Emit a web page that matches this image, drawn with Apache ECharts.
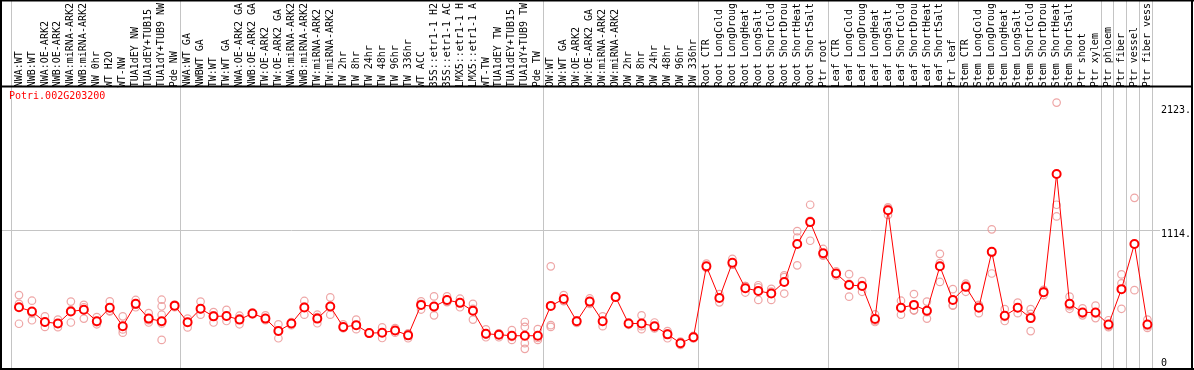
<!DOCTYPE html>
<html>
<head>
<meta charset="utf-8">
<script src="https://cdn.jsdelivr.net/npm/echarts@6/dist/echarts.min.js"></script>
<style>
html,body{margin:0;padding:0;background:#fff;}
#chart{width:1194px;height:370px;}
</style>
</head>
<body>
<div id="chart"></div>
<script>
// ---------- data ----------
const geneName = 'Potri.002G203200';

const categories = [
  'NWA:WT','NWB:WT','NWA:OE-ARK2','NWB:OE-ARK2','NWA:miRNA-ARK2','NWB:miRNA-ARK2','NW 0hr','WT H2O','WT-NW','TUA1dEY NW','TUA1dEY+TUB15','TUA1dY+TUB9 NW','Pde NW',
  'NWA:WT GA','NWBWT GA','TW:WT','TW:WT GA','NWA:OE-ARK2 GA','NWB:OE-ARK2 GA','TW:OE-ARK2','TW:OE-ARK2 GA','NWA:miRNA-ARK2','NWB:miRNA-ARK2','TW:miRNA-ARK2','TW:miRNA-ARK2','TW 2hr','TW 8hr','TW 24hr','TW 48hr','TW 96hr','TW 336hr','WT ACC','35S::etr1-1 H2','35S::etr1-1 AC','LMX5::etr1-1 H','LMX5::etr1-1 A','WT-TW','TUA1dEY TW','TUA1dEY+TUB15','TUA1dY+TUB9 TW','Pde TW',
  'OW:WT','OW:WT GA','OW:OE-ARK2','OW:OE-ARK2 GA','OW:miRNA-ARK2','OW:miRNA-ARK2','OW 2hr','OW 8hr','OW 24hr','OW 48hr','OW 96hr','OW 336hr',
  'Root CTR','Root LongCold','Root LongDroug','Root LongHeat','Root LongSalt','Root ShortCold','Root ShortDrou','Root ShortHeat','Root ShortSalt','Ptr root',
  'Leaf CTR','Leaf LongCold','Leaf LongDroug','Leaf LongHeat','Leaf LongSalt','Leaf ShortCold','Leaf ShortDrou','Leaf ShortHeat','Leaf ShortSalt','Ptr leaf',
  'Stem CTR','Stem LongCold','Stem LongDroug','Stem LongHeat','Stem LongSalt','Stem ShortCold','Stem ShortDrou','Stem ShortHeat','Stem ShortSalt','Ptr shoot','Ptr xylem',
  'Ptr phloem','Ptr fiber','Ptr vessel','Ptr fiber vess'
];

// number of categories in each separated block
const groupSizes = [13, 28, 12, 10, 10, 11, 1, 1, 1, 1];

// mean expression per category
const means = [
  498,465,381,369,465,478,387,494,348,525,408,387,511,
  379,486,426,428,400,449,408,309,369,496,408,504,342,356,293,296,314,275,517,504,556,533,470,288,280,272,272,272,
  509,564,387,543,387,579,369,369,348,283,213,260,
  823,572,852,649,628,607,699,1000,1174,927,
  766,675,667,405,1268,494,517,470,823,556,
  660,494,938,431,494,412,618,1556,525,457,457,
  361,642,1000,361
];

// individual replicate values per category
const replicates = [
  [595,525,367],[550,449,395],[426,377,342],[400,369,340],[543,475,377],[517,498,408],[420,379,363],[545,470,465],[426,322,296],[556,519,498],[451,395,377],[558,506,439,369,239,387],[519,511,498],
  [408,379,338],[543,480,439],[459,434,377],[478,426,389],[431,410,363],[455,449,441],[434,408,395],[363,309,252],[381,369,356],[548,504,439],[439,420,371],[576,504,439],[363,334,332],[400,356,324],[291,293,297],[338,296,254],[332,314,296],[291,283,252],[545,480,525],[584,434,494],[584,545,539],[533,498,566],[525,400,486],[322,260,281],[291,260,289],[317,239,262],[381,342,213,168],[324,239,254],
  [823,356,342],[595,546,550],[395,373,392],[568,525,535],[426,348,387],[589,574,574],[369,379,359],[434,324,348],[377,330,337],[309,252,288],[225,200,214],[260,271,250],
  [844,810,815],[603,537,574],[883,837,837],[667,615,666],[673,556,656],[644,556,622],[751,607,738],[1102,1052,831],[1312,1026,1184],[961,907,913],
  [766,784,749],[761,582,683],[706,621,675],[441,381,391],[1291,1231,1281],[550,439,491],[603,472,476],[543,408,460],[922,849,699],[642,511,515],
  [673,621,685],[511,451,518],[1117,766,930],[483,389,422],[535,451,494],[483,309,446],[636,595,624],[2123,1312,1219],[582,486,507],[490,434,447],[511,412,447],
  [395,348,340],[759,688,486],[1367,634,1000],[400,334,348]
];

// right-hand axis tick values and their labels
const yTickValues = [0, 1114, 2123];
const yTickLabels = ['0', '1114.', '2123.'];
const gridLineValues = [1114];

// ---------- chart ----------
const MONO = '"DejaVu Sans Mono", "Liberation Mono", monospace';
const chart = echarts.init(document.getElementById('chart'), null, {renderer: 'canvas'});

const repData = [];
replicates.forEach((arr, i) => arr.forEach(v => repData.push([i, v])));

const labelRich = {
  t: {padding: [16, 0, 0, 0], fontFamily: MONO, fontSize: 10, color: '#000'},
  m: {padding: [10, 0, 0, 0], fontFamily: MONO, fontSize: 10, color: '#000'},
  z: {padding: [0, 0, 13, 0], fontFamily: MONO, fontSize: 10, color: '#000'}
};
const richKey = ['z', 'm', 't'];

const option = {
  animation: false,
  backgroundColor: '#fff',
  title: {
    text: geneName,
    left: 9, top: 91,
    padding: 0,
    textStyle: {color: '#ff0000', fontFamily: MONO, fontSize: 10, fontWeight: 'normal'}
  },
  grid: {left: 12.5, width: 1144, top: 98.3, height: 272.3, containLabel: false},
  xAxis: {
    type: 'category',
    data: categories,
    position: 'top',
    offset: 12.3,
    boundaryGap: true,
    axisLine: {show: false},
    axisTick: {show: false},
    splitLine: {show: false},
    axisLabel: {
      interval: 0, rotate: 90, margin: 3,
      fontFamily: MONO, fontSize: 10, color: '#000'
    }
  },
  yAxis: {
    type: 'value',
    position: 'right',
    min: 0, max: 2123,
    axisLine: {show: false},
    axisTick: {show: false},
    splitLine: {show: false},
    axisLabel: {
      customValues: yTickValues,
      margin: 7,
      align: 'left',
      formatter: function (v) {
        const k = yTickValues.indexOf(v);
        if (k < 0) return '';
        return '{' + richKey[k] + '|' + yTickLabels[k] + '}';
      },
      rich: labelRich
    }
  },
  series: [
    {
      name: 'replicates',
      type: 'scatter',
      data: repData,
      symbol: 'circle',
      symbolSize: 7.5,
      clip: false,
      z: 2,
      itemStyle: {color: 'rgba(0,0,0,0)', borderColor: '#ea9090', borderWidth: 1.2}
    },
    {
      name: 'mean',
      type: 'line',
      data: means,
      symbol: 'emptyCircle',
      symbolSize: 8,
      showAllSymbol: true,
      clip: false,
      z: 3,
      lineStyle: {color: '#ff0000', width: 1},
      itemStyle: {color: '#ff0000', borderColor: '#ee0000', borderWidth: 1.8}
    }
  ]
};
chart.setOption(option);

// separators and frame, positioned through the axes
const p0 = chart.convertToPixel({xAxisIndex: 0}, 0);
const p1 = chart.convertToPixel({xAxisIndex: 0}, 1);
const bw = p1 - p0;
const boundaries = [0];
groupSizes.forEach(s => boundaries.push(boundaries[boundaries.length - 1] + s));
const graphics = [];
boundaries.forEach(b => {
  const x = Math.round(p0 + (b - 0.5) * bw - 1.5) + 0.5;
  graphics.push({type: 'line', z: 0, silent: true,
    shape: {x1: x, y1: 0, x2: x, y2: 369},
    style: {stroke: '#c4c4c4', lineWidth: 1}});
});
gridLineValues.forEach(v => {
  const y = Math.round(chart.convertToPixel({yAxisIndex: 0}, v)) + 0.5;
  graphics.push({type: 'line', z: 0, silent: true,
    shape: {x1: 2, y1: y, x2: 1160, y2: y},
    style: {stroke: '#c4c4c4', lineWidth: 1}});
});
// frame
const frame = [
  [1, 0, 1, 370], [1192, 0, 1192, 370], [0, 369, 1194, 369], [0, 86.5, 1192, 86.5], [0, 0.5, 1194, 0.5]
];
frame.forEach(f => graphics.push({type: 'line', z: 10, silent: true,
  shape: {x1: f[0], y1: f[1], x2: f[2], y2: f[3]},
  style: {stroke: '#000', lineWidth: 2}}));
chart.setOption({graphic: graphics});
</script>
</body>
</html>
